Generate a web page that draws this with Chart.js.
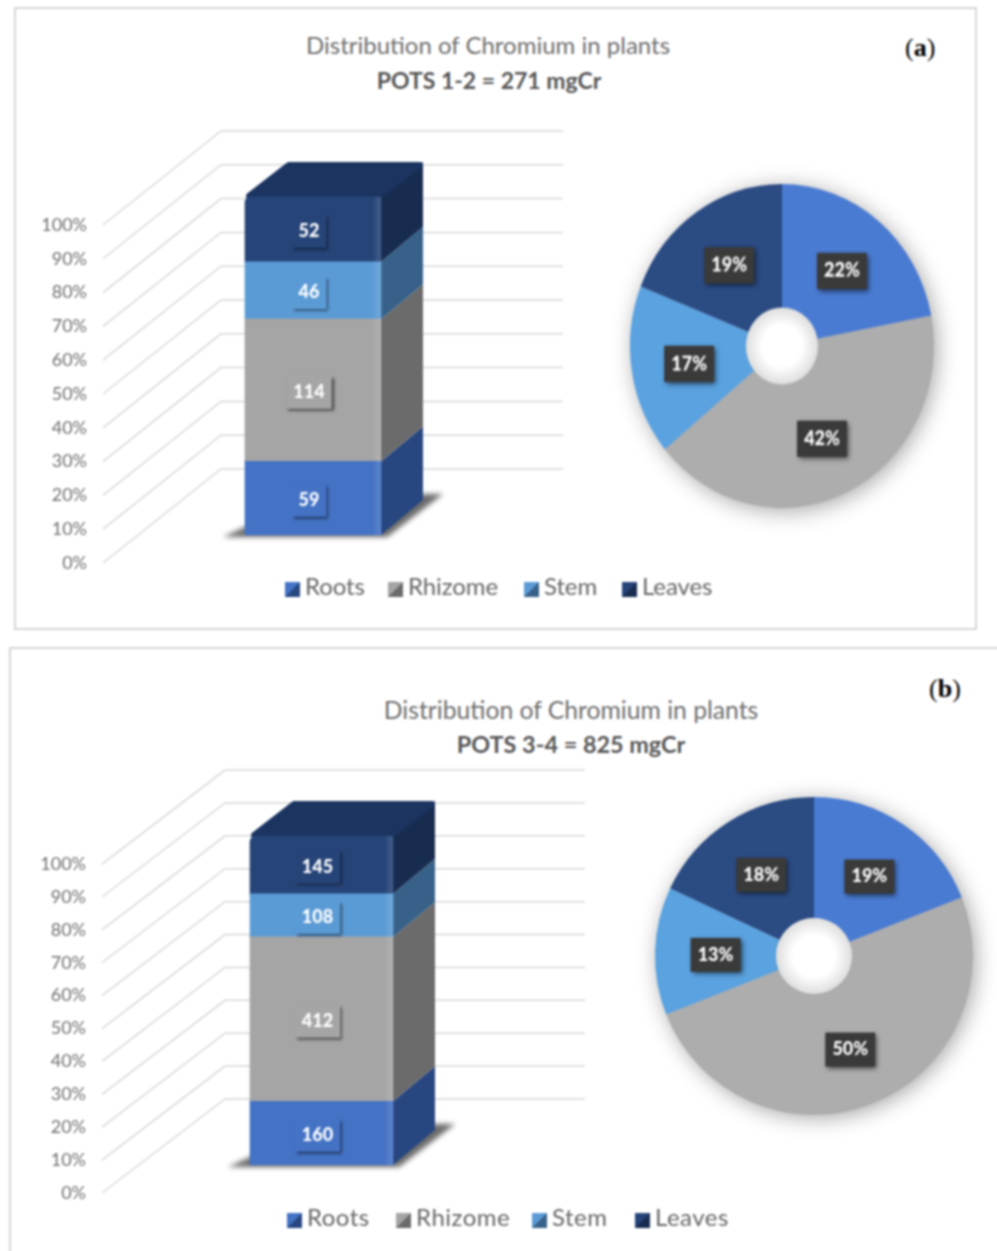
<!DOCTYPE html>
<html>
<head>
<meta charset="utf-8">
<title>Distribution of Chromium in plants</title>
<script src="https://cdn.jsdelivr.net/npm/chart.js@4"></script>
<style>
html, body { margin: 0; padding: 0; background: #fff; }
body { width: 997px; height: 1251px; overflow: hidden; position: relative; font-family: Lato, sans-serif; }
#page { position: absolute; left: 0; top: 0; width: 997px; height: 1251px; filter: blur(0.8px); }
.panel { position: absolute; box-sizing: border-box; border: 2px solid #d6d6d6; background: #fff; }
.abs { position: absolute; white-space: nowrap; }
canvas { position: absolute; }
.title { font-size: 24px; color: #6e6e6e; transform: translateX(-50%); }
.sub { font-size: 23px; font-weight: bold; color: #555; transform: translateX(-50%); }
.tag { font-family: "Liberation Serif", serif; font-size: 26px; color: #000; }
.leg { font-size: 24px; color: #666; }
.swatch { position: absolute; width: 15px; height: 15px; }
</style>
</head>
<body>
<div id="page"></div>
<script>
"use strict";

//data
const seriesNames = ['Roots', 'Rhizome', 'Stem', 'Leaves'];
const potsA = [59, 114, 46, 52];       //mgCr, pots 1-2
const potsB = [160, 412, 108, 145];    //mgCr, pots 3-4
const sharesA = [22, 42, 17, 19];      //% labels on the ring
const sharesB = [19, 50, 13, 18];
const tickValues = [0, 10, 20, 30, 40, 50, 60, 70, 80, 90, 100];
const tickLabels = ['0%', '10%', '20%', '30%', '40%', '50%', '60%', '70%', '80%', '90%', '100%'];

//colours per series
const frontColors = ['#4472c4', '#a5a5a5', '#5b9bd5', '#264478'];
const sideColors = ['#284780', '#6b6b6b', '#376188', '#182c50'];
const ringColors = ['#4a7bd2', '#adadad', '#5aa2e0', '#2b4b83'];
const topColor = '#1b3460';

const page = document.getElementById('page');

//draws the fake 3D around the flat chart.js bars
const box3d = {
    id: 'box3d',
    beforeDatasetsDraw(chart, args, opts) {
        const ctx = chart.ctx;
        const ticksAxis = chart.scales.yTicks;
        const left = chart.chartArea.left;

        //floor + side walls grid
        ctx.save();
        ctx.strokeStyle = '#d8d8d8';
        ctx.lineWidth = 1.5;
        tickValues.forEach(v => {
            const py = ticksAxis.getPixelForValue(v);
            ctx.beginPath();
            ctx.moveTo(left, py);
            ctx.lineTo(left + opts.wallDx, py + opts.wallDy);
            ctx.lineTo(opts.wallRight, py + opts.wallDy);
            ctx.stroke();
        });
        ctx.restore();

        const bars = chart.data.datasets.map((d, i) => chart.getDatasetMeta(i).data[0]);
        const first = bars[0];
        const last = bars[bars.length - 1];
        const l = first.x - first.width / 2;
        const r = first.x + first.width / 2;
        const dx = opts.depthX;
        const dy = opts.depthY;

        //shadow on the floor
        ctx.save();
        ctx.filter = 'blur(2.5px)';
        ctx.fillStyle = '#6a6a6a';
        ctx.beginPath();
        ctx.moveTo(l - 22, first.base + 2);
        ctx.lineTo(r + 6, first.base + 2);
        ctx.lineTo(r + dx + 20, first.base + dy - 6);
        ctx.lineTo(r + dx, first.base + dy - 6);
        ctx.lineTo(l, first.base - 8);
        ctx.closePath();
        ctx.fill();
        ctx.restore();

        //right side
        bars.forEach((b, i) => {
            ctx.fillStyle = sideColors[i];
            ctx.beginPath();
            ctx.moveTo(r, b.y);
            ctx.lineTo(r + dx, b.y + dy);
            ctx.lineTo(r + dx, b.base + dy);
            ctx.lineTo(r, b.base);
            ctx.closePath();
            ctx.fill();
        });

        //top, rounded with a round stroke
        ctx.save();
        ctx.fillStyle = topColor;
        ctx.strokeStyle = topColor;
        ctx.lineWidth = 6;
        ctx.lineJoin = 'round';
        ctx.beginPath();
        ctx.moveTo(l + 4, last.y - 1);
        ctx.lineTo(l + dx + 2, last.y + dy + 3);
        ctx.lineTo(r + dx - 3, last.y + dy + 3);
        ctx.lineTo(r - 2, last.y - 1);
        ctx.closePath();
        ctx.fill();
        ctx.stroke();
        ctx.restore();
    },
    afterDatasetsDraw(chart, args, opts) {
        const ctx = chart.ctx;
        chart.data.datasets.forEach((d, i) => {
            const b = chart.getDatasetMeta(i).data[0];
            const text = String(d.rawValues[0]);
            const cx = b.x - 4;
            const cy = (b.y + b.base) / 2 + 2;
            const r = b.x + b.width / 2;
            ctx.save();

            //soft bevel on the right edge of the front face
            const edge = ctx.createLinearGradient(r - 9, 0, r, 0);
            edge.addColorStop(0, 'rgba(255,255,255,0)');
            edge.addColorStop(1, 'rgba(255,255,255,0.14)');
            ctx.fillStyle = edge;
            ctx.fillRect(r - 9, b.y, 9, b.base - b.y);

            ctx.font = '900 18px Lato';
            const w = ctx.measureText(text).width + 14;
            const h = Math.min(33, b.base - b.y - 6);
            ctx.shadowColor = 'rgba(0,0,0,0.6)';
            ctx.shadowBlur = 3;
            ctx.shadowOffsetX = 2;
            ctx.shadowOffsetY = 2;
            ctx.fillStyle = frontColors[i];
            ctx.fillRect(cx - w / 2, cy - h / 2, w, h);
            ctx.shadowColor = 'transparent';
            ctx.fillStyle = '#fff';
            ctx.textAlign = 'center';
            ctx.textBaseline = 'middle';
            ctx.fillText(text, cx, cy);
            ctx.restore();
        });
    }
};

//soft shadow, hole and boxed labels of the ring
const ringDeco = {
    id: 'ringDeco',
    beforeDatasetsDraw(chart) {
        const a = chart.getDatasetMeta(0).data[0];
        const ctx = chart.ctx;
        ctx.save();
        ctx.shadowColor = 'rgba(0,0,0,0.38)';
        ctx.shadowBlur = 22;
        ctx.shadowOffsetX = 3;
        ctx.shadowOffsetY = 3;
        ctx.fillStyle = '#bbb';
        ctx.beginPath();
        ctx.arc(a.x, a.y, a.outerRadius - 1, 0, Math.PI * 2);
        ctx.fill();
        ctx.restore();
    },
    afterDatasetsDraw(chart) {
        const ctx = chart.ctx;
        const meta = chart.getDatasetMeta(0);
        const a = meta.data[0];

        const g = ctx.createRadialGradient(a.x, a.y, a.innerRadius * 0.55, a.x, a.y, a.innerRadius);
        g.addColorStop(0, '#ffffff');
        g.addColorStop(1, '#dedede');
        ctx.fillStyle = g;
        ctx.beginPath();
        ctx.arc(a.x, a.y, a.innerRadius, 0, Math.PI * 2);
        ctx.fill();

        meta.data.forEach((arc, i) => {
            const p = arc.getCenterPoint();
            const text = chart.data.datasets[0].data[i] + '%';
            const py = p.y + 2;
            ctx.save();
            ctx.shadowColor = 'rgba(0,0,0,0.6)';
            ctx.shadowBlur = 5;
            ctx.shadowOffsetX = 2;
            ctx.shadowOffsetY = 2;
            ctx.fillStyle = '#3a3a3a';
            ctx.fillRect(p.x - 25, py - 17, 50, 34);
            ctx.shadowColor = 'transparent';
            ctx.fillStyle = '#fff';
            ctx.font = '900 18px Lato';
            ctx.textAlign = 'center';
            ctx.textBaseline = 'middle';
            ctx.fillText(text, p.x, py);
            ctx.restore();
        });
    }
};

function addText(cls, html, x, y, size) {
    const el = document.createElement('div');
    el.className = 'abs ' + cls;
    el.innerHTML = html;
    el.style.left = x + 'px';
    el.style.top = y + 'px';
    if (size) el.style.fontSize = size + 'px';
    page.appendChild(el);
    return el;
}

function addCanvas(left, top, w, h) {
    const c = document.createElement('canvas');
    c.style.left = left + 'px';
    c.style.top = top + 'px';
    c.width = w;
    c.height = h;
    c.style.width = w + 'px';
    c.style.height = h + 'px';
    page.appendChild(c);
    return c;
}

function makeBar(values, p) {
    const total = values.reduce((s, v) => s + v, 0);
    const canvas = addCanvas(0, p.top, 620, p.height);
    return new Chart(canvas, {
        type: 'bar',
        data: {
            labels: [p.label],
            datasets: seriesNames.map((name, i) => ({
                label: name,
                data: [values[i] / total * 100],
                rawValues: [values[i]],
                backgroundColor: frontColors[i],
                barThickness: p.barWidth,
                borderRadius: i === seriesNames.length - 1 ? { topLeft: 6, topRight: 3 } : 0,
                borderSkipped: false,
                yAxisID: 'y'
            }))
        },
        options: {
            responsive: false,
            animation: false,
            layout: { padding: { left: 0, right: p.padRight, top: p.padTop, bottom: p.padBottom } },
            plugins: {
                legend: { display: false },
                tooltip: { enabled: false },
                box3d: p.box
            },
            scales: {
                x: { stacked: true, display: false },
                y: { stacked: true, display: false, min: p.barMin, max: p.barMax },
                yTicks: {
                    position: 'left',
                    min: 0,
                    max: p.tickMax,
                    afterFit(s) { s.width = p.frontX; },
                    afterBuildTicks(s) { s.ticks = tickValues.map(v => ({ value: v })); },
                    grid: { display: false },
                    border: { display: false },
                    ticks: {
                        padding: 8,
                        autoSkip: false,
                        color: '#707070',
                        font: { family: 'Lato', size: 18 },
                        callback: (v, i) => tickLabels[i]
                    }
                }
            }
        },
        plugins: [box3d]
    });
}

function makeRing(values, cx, cy, radius, hole, stretchY) {
    const size = 380;
    const canvas = addCanvas(cx - size / 2, cy - size / 2, size, size);
    canvas.style.transform = 'scaleY(' + stretchY + ')';
    return new Chart(canvas, {
        type: 'doughnut',
        data: {
            labels: seriesNames,
            datasets: [{ data: values, backgroundColor: ringColors, borderWidth: 0 }]
        },
        options: {
            responsive: false,
            animation: false,
            cutout: (hole / radius * 100) + '%',
            radius: radius,
            layout: { padding: 0 },
            plugins: { legend: { display: false }, tooltip: { enabled: false } }
        },
        plugins: [ringDeco]
    });
}

function addLegend(lefts, y, spacing) {
    seriesNames.forEach((name, i) => {
        const s = document.createElement('div');
        s.className = 'swatch';
        s.style.left = lefts[i] + 'px';
        s.style.top = (y - 6) + 'px';
        s.style.background = 'linear-gradient(135deg,' + frontColors[i] + ' 48%,' + sideColors[i] + ' 52%)';
        page.appendChild(s);
        const t = addText('leg', name, lefts[i] + 20, y - 17);
        t.style.letterSpacing = spacing + 'px';
    });
}

function addPanel(x, y, w, h) {
    const el = document.createElement('div');
    el.className = 'panel';
    el.style.left = x + 'px';
    el.style.top = y + 'px';
    el.style.width = w + 'px';
    el.style.height = h + 'px';
    page.appendChild(el);
}

//panel a
addPanel(14, 7, 963, 623);
addText('title', 'Distribution of Chromium in plants', 488, 30, 24);
addText('sub', 'POTS 1-2 = 271 mgCr', 489, 66);
addText('tag', '(<b>a</b>)', 905, 33);
makeBar(potsA, {
    label: 'POTS 1-2', top: 0, height: 640, barWidth: 136, frontX: 103,
    padRight: 97, padTop: 130, padBottom: 77,
    barMin: -8.28, barMax: 119.8, tickMax: 128.1,
    box: { wallDx: 118, wallDy: -94, wallRight: 563, depthX: 42, depthY: -35 }
});
makeRing(sharesA, 781.5, 346, 152, 36, 162 / 152);
addLegend([285, 388, 524, 622], 588, -0.1);

//panel b
addPanel(9, 647, 1000, 620);
addText('title', 'Distribution of Chromium in plants', 571, 695, 24.7);
addText('sub', 'POTS 3-4 = 825 mgCr', 571, 730, 23.4);
addText('tag', '(<b>b</b>)', 929, 674);
makeBar(potsB, {
    label: 'POTS 3-4', top: 640, height: 611, barWidth: 143, frontX: 102,
    padRight: 79, padTop: 131, padBottom: 58,
    barMin: -8.5, barMax: 119.76, tickMax: 128.3,
    box: { wallDx: 123, wallDy: -94, wallRight: 585, depthX: 42, depthY: -35 }
});
makeRing(sharesB, 813.5, 956, 159, 38, 1);
addLegend([287, 396, 532, 635], 1219, 0.5);
</script>
</body>
</html>
